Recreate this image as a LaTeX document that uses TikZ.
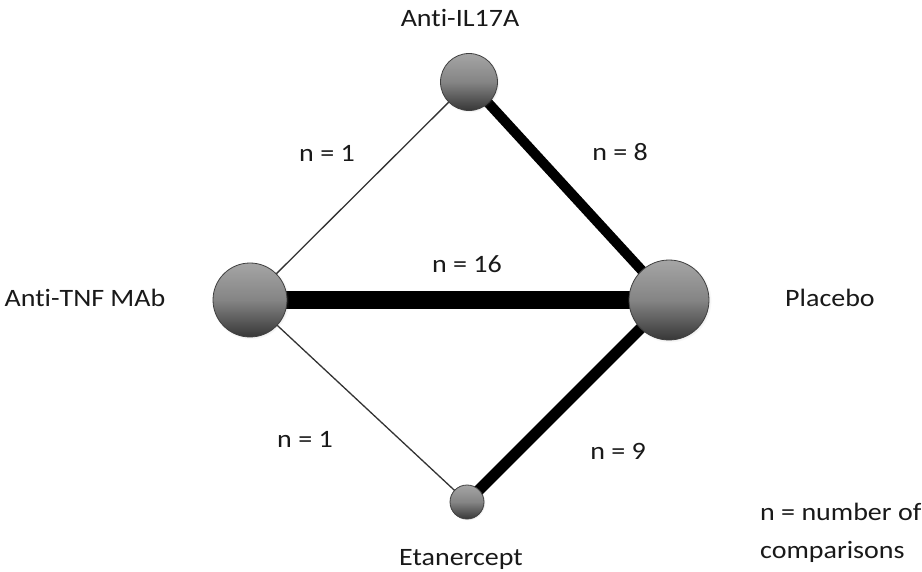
\documentclass[tikz,border=0pt]{standalone}
\usepackage{fontspec}
\setmainfont{Carlito}[FakeStretch=1.12,Ligatures={NoCommon}]
\usetikzlibrary{backgrounds,shadows}
\definecolor{balltop}{RGB}{165,165,165}
\definecolor{ballbot}{RGB}{55,55,55}
\definecolor{txt}{RGB}{25,25,25}
\tikzset{
  ball/.style={circle, inner sep=0pt, minimum size=#1, draw=black!75, line width=0.8pt,
    top color=balltop, bottom color=ballbot, middle color=black!48,
    circular drop shadow={shadow xshift=0.6pt, shadow yshift=-0.6pt, opacity=0.25, shadow scale=1.05}},
  lbl/.style={inner sep=0pt, anchor=base, text=txt, font=\fontsize{25}{30}\selectfont},
  lbll/.style={lbl, anchor=base west},
  thinedge/.style={draw=black!80, line width=1.3pt},
  edge8/.style={draw=black, line width=10pt},
  edge9/.style={draw=black, line width=11pt},
  edge16/.style={draw=black, line width=18pt}
}
\begin{document}
\begin{tikzpicture}[x=1pt,y=-1pt]
\useasboundingbox (0,0) rectangle (922,572);
% nodes
\node[ball=74pt] (tnf) at (250,300) {};
\node[ball=57pt] (il) at (469,82) {};
\node[ball=80pt] (pla) at (669,300) {};
\node[ball=34pt] (eta) at (467,502) {};
% edges
\begin{scope}[on background layer]
\fill[white] (0,0) rectangle (922,572);
\draw[thinedge] (tnf.center) -- (il.center);
\draw[thinedge] (tnf.center) -- (eta.center);
\draw[edge8] (il.center) -- (pla.center);
\draw[edge9] (eta.center) -- (pla.center);
\draw[edge16] (tnf.center) -- (pla.center);
\end{scope}
% labels
\node[lbl] (ltnf) at (85,307) {Anti-TNF MAb};
\node[lbl] (lil) at (460,27) {Anti-IL17A};
\node[lbll] (lpla) at (785,307) {Placebo};
\node[lbl] (leta) at (461,565) {Etanercept};
\node[lbl] (n1a) at (327,162) {n = 1};
\node[lbl] (n8) at (620,161) {n = 8};
\node[lbl] (n16) at (467,273) {n = 16};
\node[lbl] (n1b) at (305,447) {n = 1};
\node[lbl] (n9) at (618,459) {n = 9};
\node[lbll] (leg1) at (760,520) {n = number of};
\node[lbll] (leg2) at (760,558) {comparisons};
\end{tikzpicture}
\end{document}
